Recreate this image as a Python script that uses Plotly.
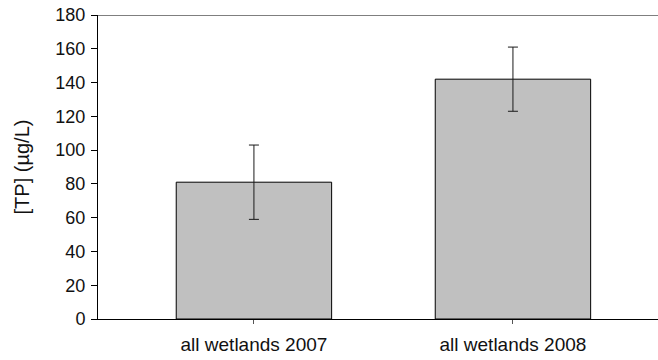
import plotly.graph_objects as go

# Total phosphorus by wetland group (mean ± error)
categories = ["all wetlands 2007", "all wetlands 2008"]
tp_mean = [81, 142]
tp_err = [22, 19]
y_ticks = [0, 20, 40, 60, 80, 100, 120, 140, 160, 180]

FONT = "Liberation Sans, Arial, sans-serif"

fig = go.Figure()
fig.add_trace(go.Bar(
    x=[0, 1],
    y=tp_mean,
    width=0.6,
    marker=dict(color="#C0C0C0", line=dict(color="#000000", width=1)),
    error_y=dict(type="data", array=tp_err, visible=True,
                 color="#1a1a1a", thickness=1, width=5),
))

fig.update_layout(
    width=658, height=360,
    margin=dict(l=98, r=0, t=15, b=41),
    paper_bgcolor="white", plot_bgcolor="white",
    showlegend=False,
    font=dict(family=FONT, size=18, color="#111111"),
    xaxis=dict(
        range=[-0.602, 1.56],
        tickmode="array", tickvals=[0, 1], ticktext=categories,
        ticks="outside", ticklen=4, tickcolor="#555555", tickwidth=1,
        ticklabelstandoff=4,
        showline=True, linecolor="#000000", linewidth=1,
        showgrid=False, zeroline=False,
        tickfont=dict(family=FONT, size=19),
    ),
    yaxis=dict(
        range=[0, 180],
        tickmode="array", tickvals=y_ticks,
        ticks="outside", ticklen=6, tickcolor="#000000", tickwidth=1,
        ticklabelstandoff=2,
        showline=True, linecolor="#000000", linewidth=1,
        showgrid=False, zeroline=False,
        tickfont=dict(family=FONT, size=18),
        title=dict(text="[TP] (µg/L)", font=dict(family=FONT, size=20), standoff=20),
    ),
    shapes=[dict(type="line", xref="paper", yref="y", x0=0, x1=1, y0=180, y1=180,
                 line=dict(color="#555555", width=1.5))],
)

fig.write_html("out.html")
